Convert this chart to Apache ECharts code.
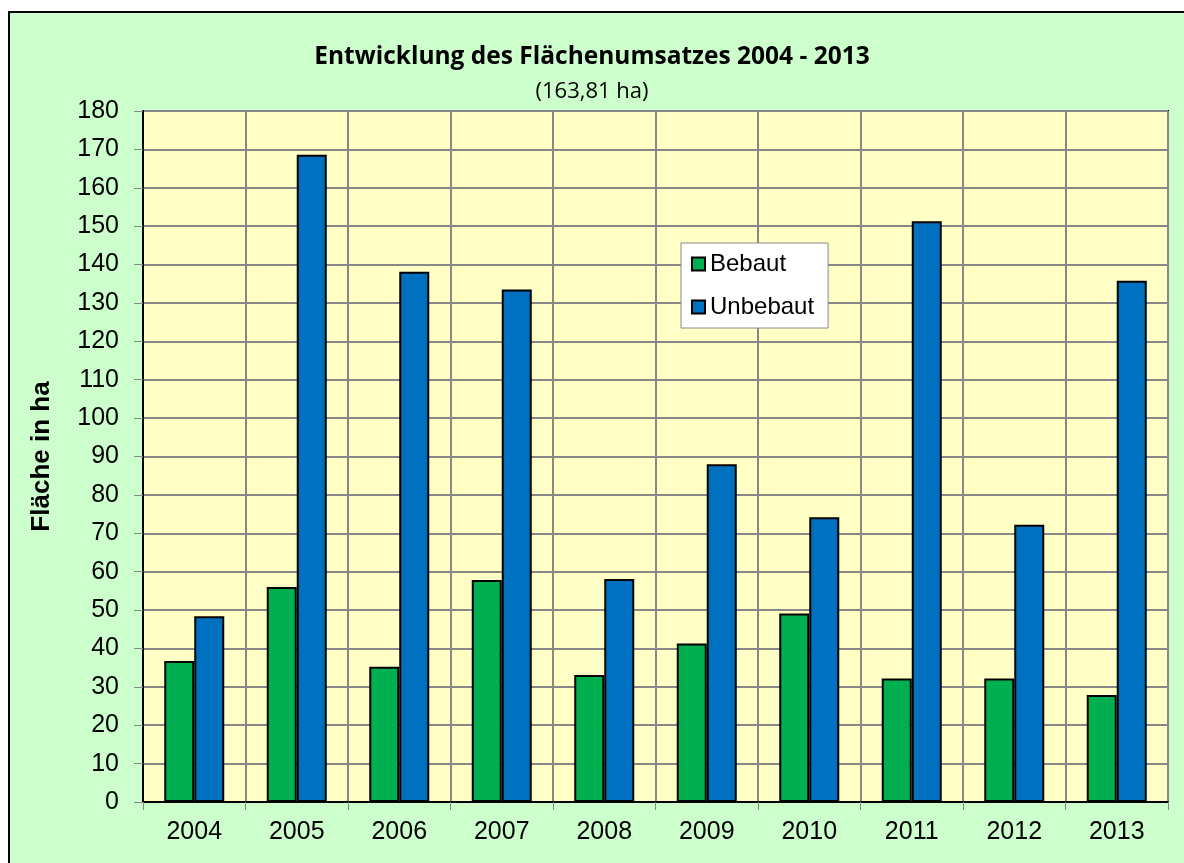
<!DOCTYPE html>
<html>
<head>
<meta charset="utf-8">
<script src="https://cdn.jsdelivr.net/npm/echarts@6/dist/echarts.min.js"></script>
<style>
html,body{margin:0;padding:0;background:#fff;}
#chart{width:1184px;height:863px;}
</style>
</head>
<body>
<div id="chart"></div>
<script>
// Flächenumsatz je Jahr
const years=["2004","2005","2006","2007","2008","2009","2010","2011","2012","2013"];
const bebaut=[36.7,56.0,35.2,57.8,33.1,41.3,49.1,32.2,32.2,27.9];
const unbebaut=[48.4,168.6,138.1,133.5,58.1,88.0,74.2,151.3,72.2,135.8];

const chart=echarts.init(document.getElementById("chart"));
const barStyle=(c)=>({color:c,borderColor:"#000",borderWidth:2});
const arial="Liberation Sans, Arial";

chart.setOption({
    animation:false,
    backgroundColor:"#fff",
    graphic:[{
        type:"rect",
        shape:{x:9,y:12,width:1190,height:870},
        style:{fill:"#CCFFCC",stroke:"#000",lineWidth:2},
        z:-10
    }],
    title:[{
        text:"Entwicklung des Flächenumsatzes 2004 - 2013",
        left:"center",
        top:40,
        textStyle:{fontFamily:"Liberation Sans Narrow, Open Sans",fontWeight:"bold",fontSize:24.5,color:"#000"}
    },{
        text:"(163,81 ha)",
        left:"center",
        top:76,
        textStyle:{fontFamily:"Liberation Sans Narrow, Open Sans",fontWeight:"normal",fontSize:22,color:"#000"}
    }],
    legend:{
        orient:"vertical",
        left:681,
        top:243,
        padding:[9,14,9,10],
        itemGap:19,
        itemWidth:13,
        itemHeight:13,
        backgroundColor:"#fff",
        borderColor:"#888",
        borderWidth:1,
        borderRadius:0,
        textStyle:{fontFamily:arial,fontSize:24,color:"#000"},
        data:[{name:"Bebaut",icon:"rect"},{name:"Unbebaut",icon:"rect"}]
    },
    grid:{
        left:143,right:16,top:111,bottom:61,
        show:true,
        backgroundColor:"#FFFFC6",
        borderColor:"#000",
        borderWidth:2
    },
    xAxis:{
        type:"category",
        data:years,
        axisLine:{lineStyle:{color:"#000",width:2}},
        axisTick:{show:true,length:8,lineStyle:{color:"#888"}},
        axisLabel:{fontFamily:arial,fontSize:25,color:"#000",margin:18},
        splitLine:{show:true,lineStyle:{color:"#888",width:2}}
    },
    yAxis:{
        type:"value",
        min:0,max:180,interval:10,
        name:"Fläche in ha",
        nameLocation:"middle",
        nameGap:88,
        nameTextStyle:{fontFamily:arial,fontWeight:"bold",fontSize:26,color:"#000"},
        axisLine:{show:true,lineStyle:{color:"#000",width:2}},
        axisTick:{show:true,length:9,lineStyle:{color:"#888"}},
        axisLabel:{fontFamily:arial,fontSize:25,color:"#000",margin:24},
        splitLine:{show:true,lineStyle:{color:"#888",width:2}}
    },
    series:[{
        name:"Bebaut",
        type:"bar",
        data:bebaut,
        barWidth:30,
        barGap:"0%",
        itemStyle:barStyle("#00B050")
    },{
        name:"Unbebaut",
        type:"bar",
        data:unbebaut,
        barWidth:30,
        itemStyle:barStyle("#0070C0")
    }]
});
</script>
</body>
</html>
